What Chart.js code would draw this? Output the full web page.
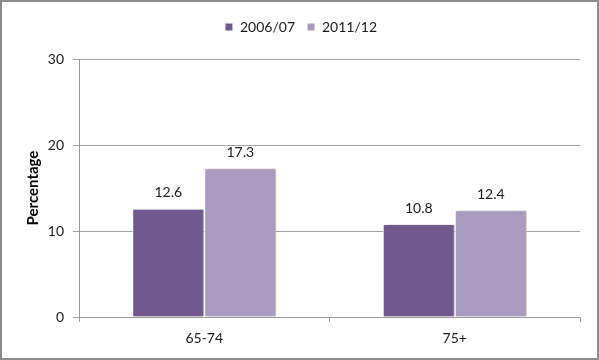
<!DOCTYPE html>
<html>
<head>
<meta charset="utf-8">
<script src="https://cdn.jsdelivr.net/npm/chart.js@4"></script>
<style>
html,body{margin:0;padding:0;background:#fff;}
#wrap{width:599px;height:360px;position:relative;}
</style>
</head>
<body>
<div id="wrap"><canvas id="c" width="599" height="360"></canvas></div>
<script>
const categories = ["65-74", "75+"];
const series1Label = "2006/07";
const series2Label = "2011/12";
const series1Values = [12.6, 10.8];
const series2Values = [17.3, 12.4];
const yTicks = [0, 10, 20, 30];

const FONT = "Lato, 'Open Sans', sans-serif";

const frame = {
  id: 'frame',
  afterDraw(chart) {
    const ctx = chart.ctx;
    ctx.save();
    ctx.strokeStyle = '#8c8c8c';
    ctx.lineWidth = 2;
    ctx.strokeRect(1, 1, chart.width - 2, chart.height - 2);
    ctx.restore();
  }
};

const legendSpace = {
  id: 'legendSpace',
  beforeInit(chart) {
    const lg = chart.legend;
    const origFit = lg.fit;
    lg.fit = function () {
      origFit.call(this);
      this.height += 15;
    };
  },
  afterLayout(chart) {
    chart.legend.left += 11;
    chart.legend.right += 11;
  }
};

const shadow = {
  id: 'shadow',
  beforeDatasetsDraw(chart) {
    const ctx = chart.ctx;
    ctx.save();
    ctx.shadowColor = 'rgba(0,0,0,0.22)';
    ctx.shadowOffsetX = 2;
    ctx.shadowOffsetY = 0;
    ctx.shadowBlur = 2;
  },
  afterDatasetsDraw(chart) {
    chart.ctx.restore();
  }
};

const labels = {
  id: 'valueLabels',
  afterDatasetsDraw(chart) {
    const ctx = chart.ctx;
    ctx.save();
    ctx.font = "14px " + FONT;
    ctx.fillStyle = '#1a1a1a';
    ctx.textAlign = 'center';
    ctx.textBaseline = 'middle';
    chart.data.datasets.forEach((ds, i) => {
      const meta = chart.getDatasetMeta(i);
      meta.data.forEach((bar, j) => {
        ctx.fillText(ds.data[j].toFixed(1), bar.x, bar.y - 16);
      });
    });
    ctx.restore();
  }
};

new Chart(document.getElementById('c'), {
  type: 'bar',
  data: {
    labels: categories,
    datasets: [
      { label: series1Label, data: series1Values, backgroundColor: '#705a8d',
        borderColor: '#ffffff', borderWidth: 1, borderSkipped: 'bottom' },
      { label: series2Label, data: series2Values, backgroundColor: '#a99abf',
        borderColor: '#ffffff', borderWidth: 1, borderSkipped: 'bottom' }
    ]
  },
  options: {
    responsive: false,
    animation: false,
    devicePixelRatio: 1,
    layout: { padding: { left: 0, right: 19, top: 8, bottom: 0 } },
    datasets: { bar: { categoryPercentage: 0.575, barPercentage: 1 } },
    plugins: {
      legend: {
        position: 'top',
        align: 'center',
        labels: {
          font: { family: FONT, size: 14 },
          color: '#1a1a1a',
          boxWidth: 8,
          boxHeight: 8,
          padding: 12
        }
      },
      tooltip: { enabled: false },
      title: { display: false }
    },
    scales: {
      x: {
        grid: { display: true, drawOnChartArea: false, offset: true, tickLength: 5, color: '#9a9a9a' },
        border: { color: '#9a9a9a' },
        ticks: { font: { family: FONT, size: 14 }, color: '#1a1a1a', padding: 8 },
        afterFit(scale) { scale.height = 43; }
      },
      y: {
        min: 0, max: 30,
        afterBuildTicks(scale) { scale.ticks = yTicks.map(v => ({ value: v })); },
        grid: { color: '#a0a0a0', tickLength: 6 },
        border: { color: '#9a9a9a' },
        ticks: { font: { family: FONT, size: 14 }, color: '#1a1a1a', padding: 9 },
        title: { display: true, text: 'Percentage', font: { family: FONT, size: 15, weight: 'bold' }, color: '#000', padding: { top: 24, bottom: 4 } },
        afterFit(scale) { scale.width = 79; }
      }
    }
  },
  plugins: [legendSpace, shadow, labels, frame]
});
</script>
</body>
</html>
